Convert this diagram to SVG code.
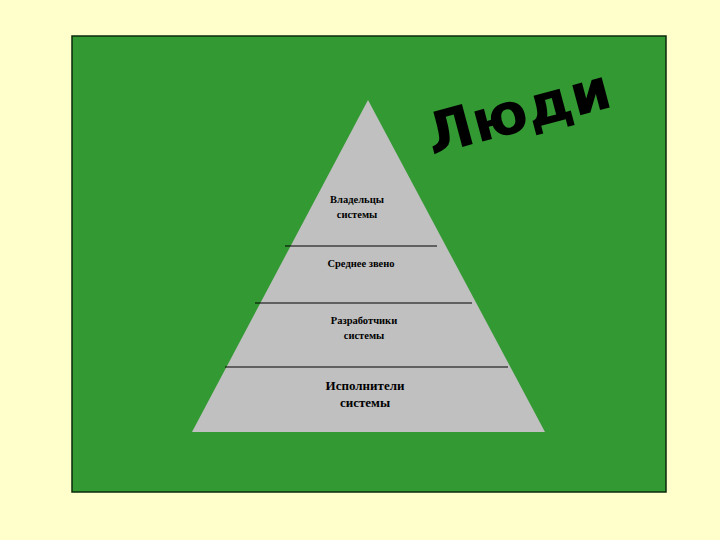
<svg xmlns="http://www.w3.org/2000/svg" width="720" height="540" viewBox="0 0 720 540">
<style>
.lbl{font-family:"Liberation Serif","Times New Roman",serif;fill:#000;text-anchor:middle;font-weight:bold}
.s{font-size:10.5px}
.b{font-size:13px}
.div{stroke:#000;stroke-width:1.2}
</style>
<rect x="0" y="0" width="720" height="540" fill="#FFFFCC"/>
<rect x="72" y="36" width="594" height="456" fill="#339933" stroke="#0b2a0b" stroke-width="1.5"/>
<g id="pyramid">
<polygon points="368,100 545,432 192,432" fill="#C0C0C0"/>
</g>
<g id="connectors">
<line class="div" x1="285" y1="246" x2="437" y2="246"/>
<line class="div" x1="255" y1="303" x2="472" y2="303"/>
<line class="div" x1="225" y1="367" x2="508" y2="367"/>
</g>
<g id="owners"><text class="lbl s" x="357" y="203">Владельцы</text><text class="lbl s" x="357" y="218">системы</text></g>
<g id="middle"><text class="lbl s" x="361" y="267">Среднее звено</text></g>
<g id="developers"><text class="lbl s" x="364" y="324">Разработчики</text><text class="lbl s" x="364" y="339">системы</text></g>
<g id="executors"><text class="lbl b" x="365" y="390">Исполнители</text><text class="lbl b" x="365" y="407">системы</text></g>
<g id="title"><text x="432" y="155" transform="rotate(-15 432 155)" font-family="DejaVu Sans, sans-serif" font-weight="bold" font-size="57" fill="#000">Люди</text></g>
</svg>
